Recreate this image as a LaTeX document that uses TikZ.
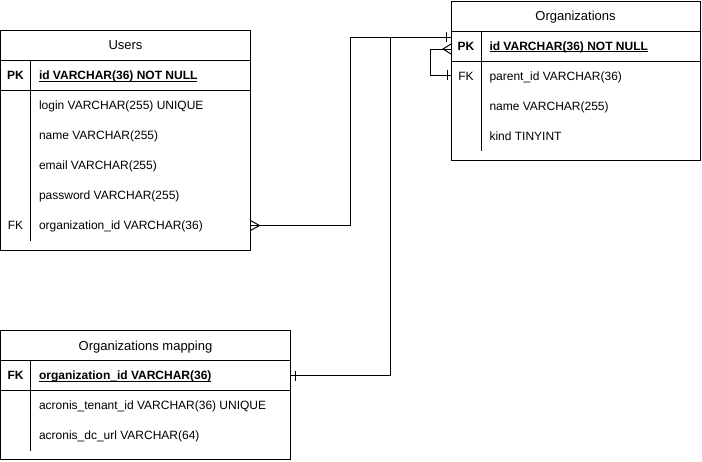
\documentclass[tikz,border=0pt]{standalone}
\usepackage{fontspec}
\setmainfont{Liberation Sans}
\newcommand\myul[1]{\underline{\smash{#1}}}
\begin{document}
\begin{tikzpicture}[x=1pt,y=-1pt,line width=1pt,
  row/.style={anchor=north west, inner sep=0pt, outer sep=0pt, minimum height=30pt},
  txt/.style={anchor=base west, inner sep=0pt, font=\fontsize{12}{14}\selectfont},
  keyt/.style={anchor=base, inner sep=0pt, font=\bfseries\fontsize{12}{14}\selectfont},
  fkt/.style={anchor=base, inner sep=0pt, font=\fontsize{12}{14}\selectfont},
  ttl/.style={anchor=base, inner sep=0pt, font=\fontsize{13}{15}\selectfont},
  conn/.style={draw, line width=1pt}]
\useasboundingbox (0,0) rectangle (702,461);

% ---------------- Users ----------------
\draw (0.5,30.5) rectangle (250.5,250.5);
\draw (0.5,60.5) -- (250.5,60.5);
\draw (0.5,90.5) -- (250.5,90.5);
\draw (30.5,60.5) -- (30.5,240.5);
\node[ttl] (u-title) at (125.5,49.5) {Users};
\node[keyt] (u-pk-k) at (15.5,79.5) {PK};
\node[txt,font=\bfseries\fontsize{12}{14}\selectfont] (u-id) at (38.5,79.5) {\myul{id VARCHAR(36) NOT NULL}};
\node[txt] (u-login) at (38.5,109.5) {login VARCHAR(255) UNIQUE};
\node[txt] (u-name) at (38.5,139.5) {name VARCHAR(255)};
\node[txt] (u-email) at (38.5,169.5) {email VARCHAR(255)};
\node[txt] (u-pass) at (38.5,199.5) {password VARCHAR(255)};
\node[fkt] (u-fk-k) at (15.5,229.5) {FK};
\node[txt] (u-orgt) at (38.5,229.5) {organization\_id VARCHAR(36)};
\node[row, minimum width=250pt] (u-org) at (0.5,210.5) {};

% ---------------- Organizations ----------------
\draw (451,1) rectangle (700,160);
\draw (451,31) -- (700,31);
\draw (451,61) -- (700,61);
\draw (481,31) -- (481,151);
\node[ttl] (o-title) at (575.5,20.5) {Organizations};
\node[keyt] (o-pk-k) at (466,50) {PK};
\node[txt,font=\bfseries\fontsize{12}{14}\selectfont] (o-id) at (489,50) {\myul{id VARCHAR(36) NOT NULL}};
\node[fkt] (o-fk-k) at (466,80) {FK};
\node[txt] (o-parent) at (489,80) {parent\_id VARCHAR(36)};
\node[txt] (o-name) at (489,110) {name VARCHAR(255)};
\node[txt] (o-kind) at (489,140) {kind TINYINT};
\node[row, minimum width=249pt] (o-pk) at (451,31) {};
\node[row, minimum width=249pt] (o-fk) at (451,60) {};
\coordinate (oin) at (451,37);
\coordinate (oself) at (451,49);

% ---------------- Organizations mapping ----------------
\draw (0.5,330.5) rectangle (290.5,459.5);
\draw (0.5,360.5) -- (290.5,360.5);
\draw (0.5,390.5) -- (290.5,390.5);
\draw (30.5,360.5) -- (30.5,450.5);
\node[ttl] (m-title) at (145.5,350) {Organizations mapping};
\node[keyt] (m-fk-k) at (15.5,379.5) {FK};
\node[txt,font=\bfseries\fontsize{12}{14}\selectfont] (m-org) at (38.5,379.5) {\myul{organization\_id VARCHAR(36)}};
\node[txt] (m-tenant) at (38.5,409.5) {acronis\_tenant\_id VARCHAR(36) UNIQUE};
\node[txt] (m-dc) at (38.5,439.5) {acronis\_dc\_url VARCHAR(64)};
\node[row, minimum width=290pt] (m-fk) at (0.5,360.5) {};

% ---------------- Connectors ----------------
\draw[conn] (u-org.east) -- ++(100,0) |- (oin);
\draw[conn] (u-org.east) ++(0,-5) -- ++(9,5) -- ++(-9,5);
\draw[conn] (oin) ++(-5,-5) -- ++(0,10);
\draw[conn] (m-fk.east) -- ++(99.5,0) |- (oin);
\draw[conn] (m-fk.east) ++(4.5,-5) -- ++(0,10);
\draw[conn] (oself) -- ++(-21,0) |- (o-fk.west);
\draw[conn] (oself) ++(0,-5) -- ++(-8,5) -- ++(8,5);
\draw[conn] (o-fk.west) ++(-4,-5) -- ++(0,10);
\end{tikzpicture}
\end{document}
